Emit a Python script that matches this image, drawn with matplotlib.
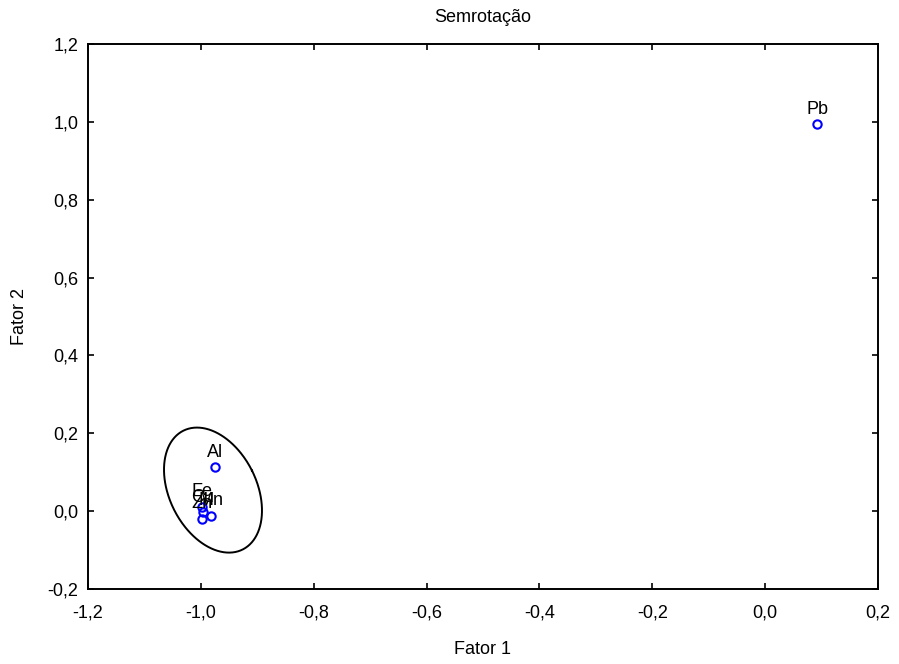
import numpy as np
import matplotlib
matplotlib.use("Agg")
import matplotlib.pyplot as plt
from matplotlib.ticker import FuncFormatter, MultipleLocator

plt.rcParams['font.family'] = ['Liberation Sans', 'DejaVu Sans']

# Data (factor loadings)
labels = ["Pb", "Al", "Fe", "Mn", "Cu", "Zn"]
fator1 = [0.092, -0.975, -0.998, -0.982, -0.997, -0.998]
fator2 = [0.994, 0.113, 0.011, -0.012, -0.003, -0.019]

title = "Semrotação"
xlabel = "Fator 1"
ylabel = "Fator 2"

FS = 13

fig = plt.figure(figsize=(8.99, 6.64), dpi=100)
ax = fig.add_axes([0.0979, 0.1130, 0.8787, 0.8207])

ax.plot(fator1, fator2, linestyle='none', marker='o', markersize=6,
        markerfacecolor='none', markeredgecolor='#0000ff', markeredgewidth=1.5)
for lab, x, y in zip(labels, fator1, fator2):
    ax.annotate(lab, (x, y), xytext=(0, 7.5), textcoords='offset points',
                ha='center', va='baseline', fontsize=FS, color='black')

# ellipse decoration around the cluster
cx, cy = -0.9785, 0.054
a_px, b_px, theta = 66.4, 43.6, np.deg2rad(26.5)
sx, sy = 1.4 / 790, 1.4 / 545
t = np.linspace(0, 2 * np.pi, 400)
u = b_px * np.cos(t)
v = a_px * np.sin(t)
dx = u * np.cos(theta) - v * np.sin(theta)
dy = u * np.sin(theta) + v * np.cos(theta)
ax.plot(cx + dx * sx, cy + dy * sy, color='black', linewidth=1.4)

ax.set_xlim(-1.2, 0.2)
ax.set_ylim(-0.2, 1.2)
ax.xaxis.set_major_locator(MultipleLocator(0.2))
ax.yaxis.set_major_locator(MultipleLocator(0.2))
fmt = FuncFormatter(lambda v, p: f"{v:.1f}".replace('-0.0', '0.0').replace('.', ','))
ax.xaxis.set_major_formatter(fmt)
ax.yaxis.set_major_formatter(fmt)
ax.tick_params(direction='in', length=4, width=1.2, top=True, right=True,
               labelsize=FS, colors='black')
ax.tick_params(axis='x', pad=11)
ax.tick_params(axis='y', pad=7)
for s in ax.spines.values():
    s.set_linewidth(1.4)

ax.set_title(title, fontsize=FS, pad=15.5)
ax.set_xlabel(xlabel, fontsize=FS, labelpad=14)
ax.set_ylabel(ylabel, fontsize=FS, labelpad=14)

fig.savefig("out.png", dpi=100)
